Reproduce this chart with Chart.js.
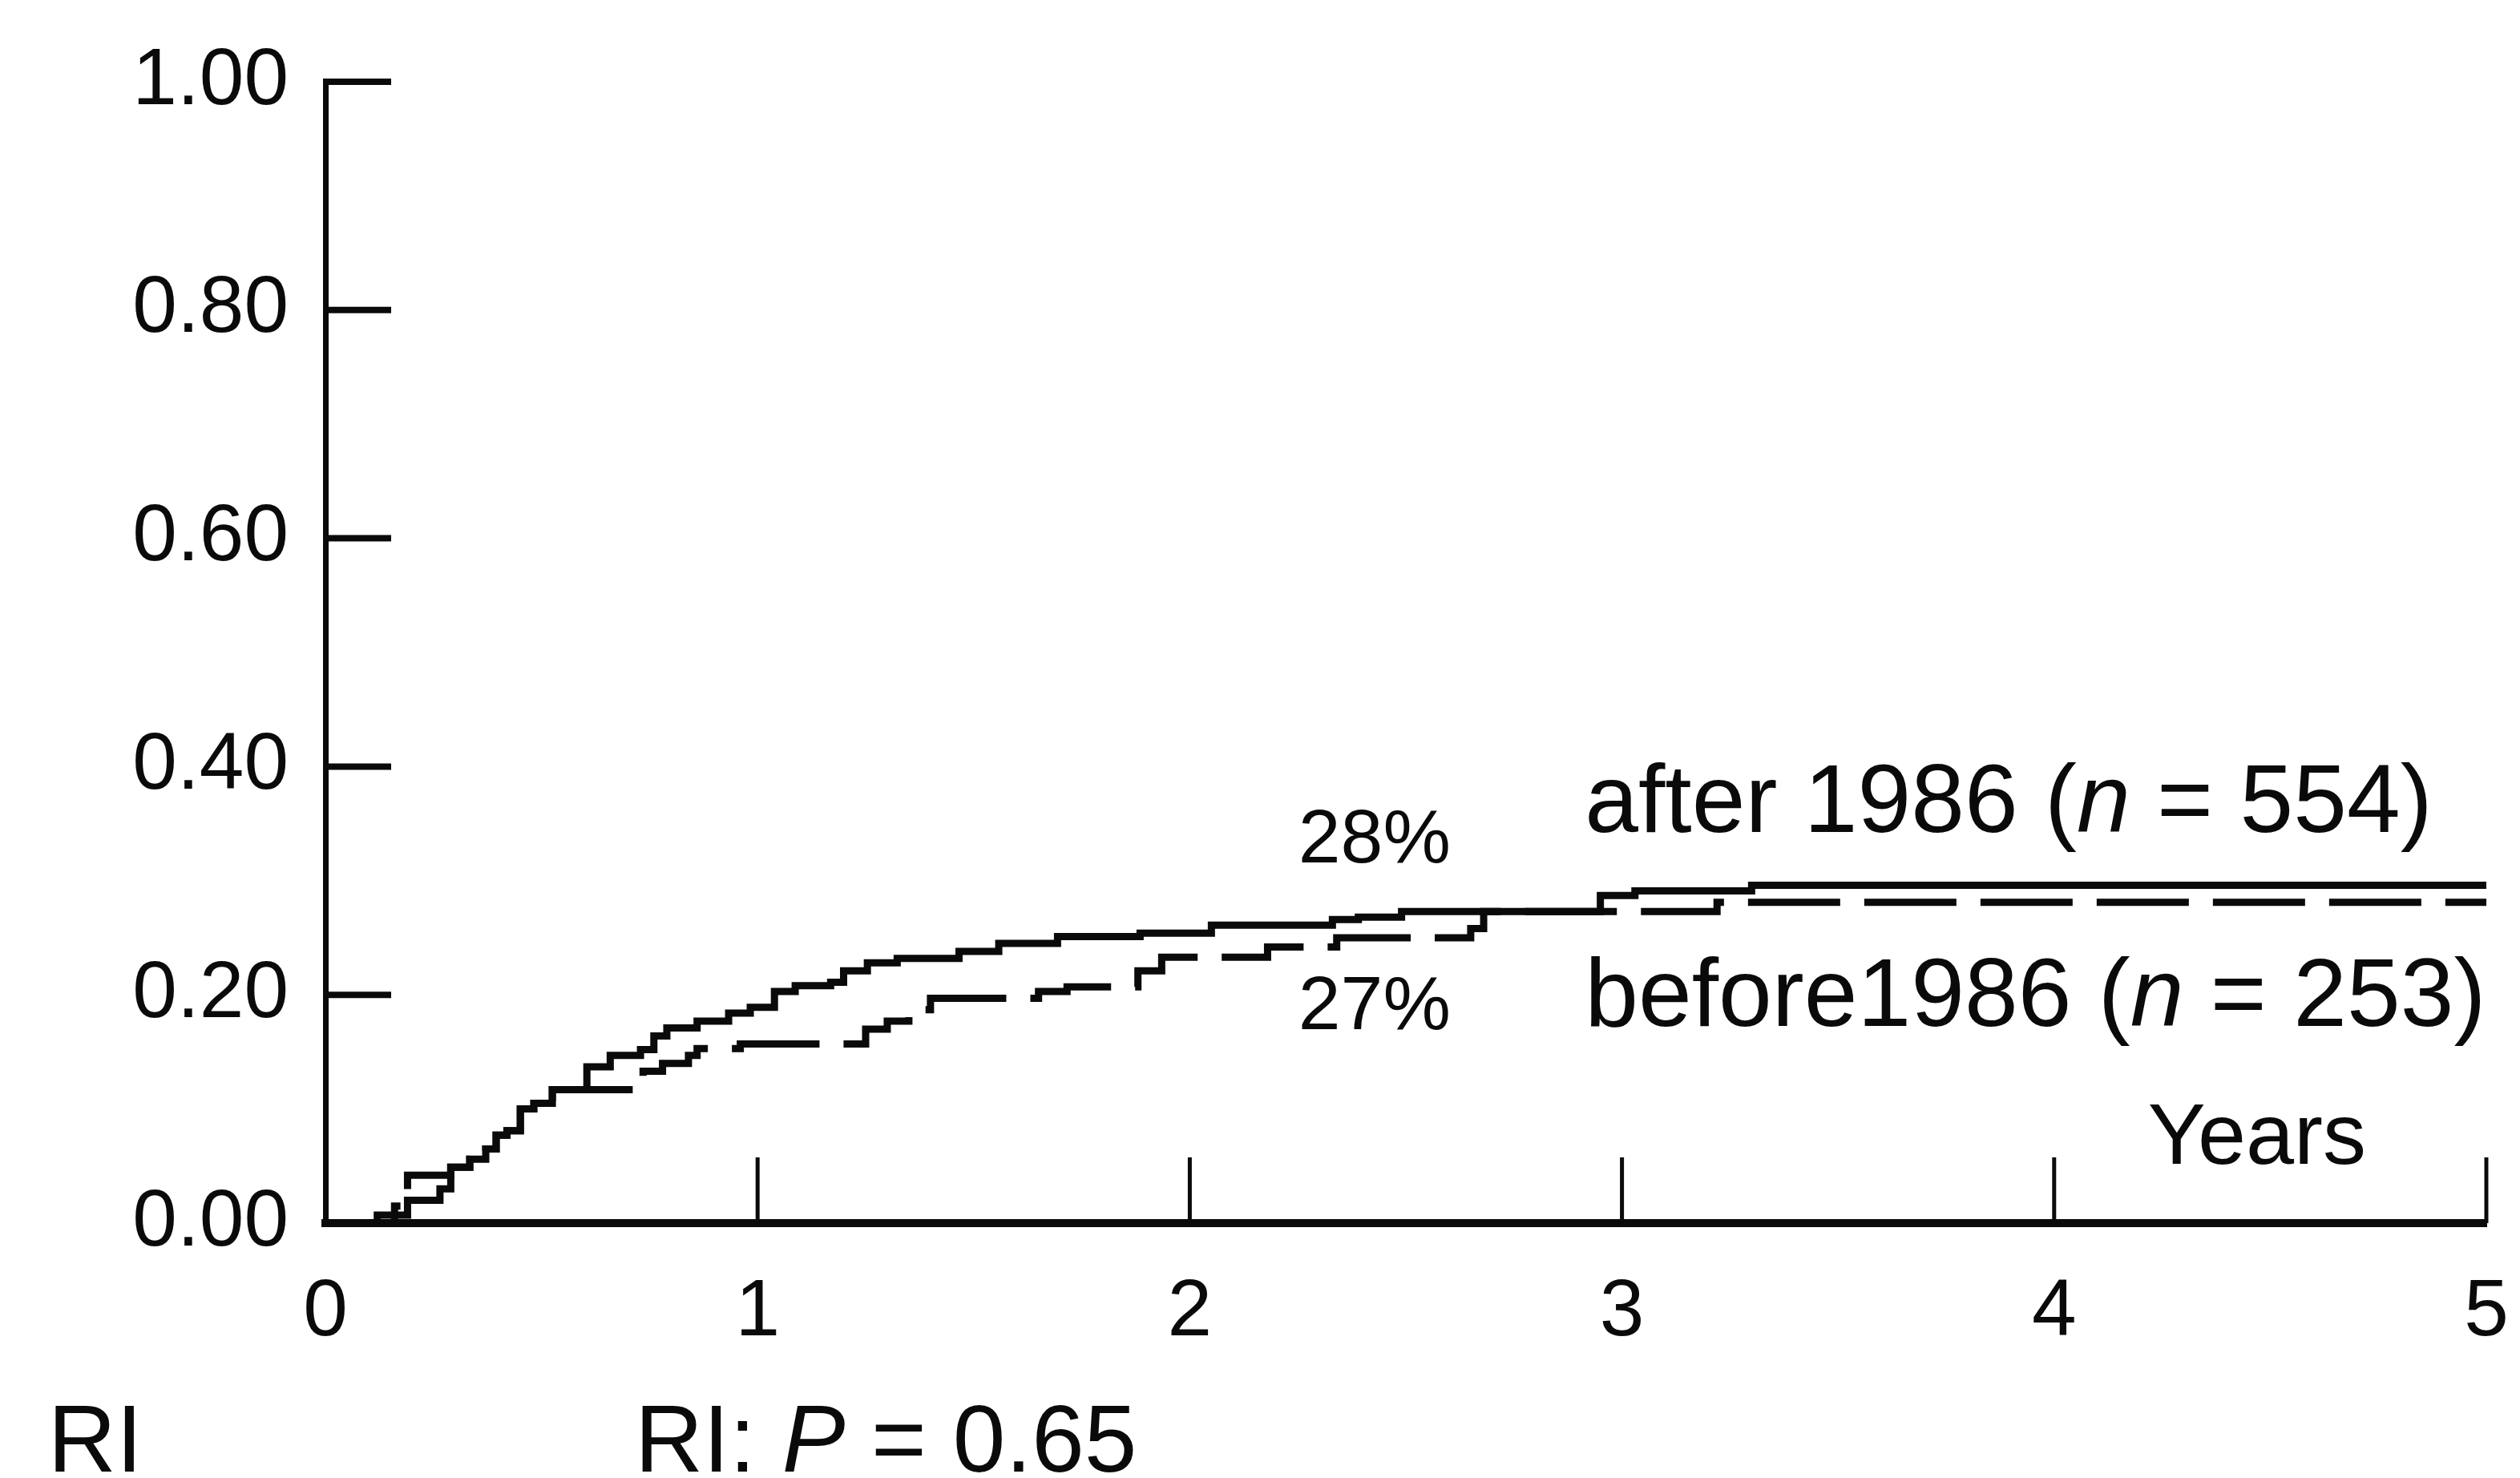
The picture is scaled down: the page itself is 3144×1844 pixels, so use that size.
<!DOCTYPE html>
<html>
<head>
<meta charset="utf-8">
<script src="https://cdn.jsdelivr.net/npm/chart.js@4.4.1/dist/chart.umd.min.js"></script>
<style>
  html, body { margin: 0; padding: 0; background: #fff; }
  #wrap { width: 3144px; height: 1844px; position: relative; }
</style>
</head>
<body>
<div id="wrap"><canvas id="chart"></canvas></div>
<script>
// cumulative incidence (years, proportion)
const afterYears = [0, 0.12, 0.19, 0.265, 0.29, 0.334, 0.371, 0.395, 0.42, 0.451, 0.482, 0.525, 0.605, 0.659, 0.729, 0.76, 0.79, 0.86, 0.933, 0.983, 1.039, 1.087, 1.169, 1.199, 1.254, 1.323, 1.466, 1.558, 1.694, 1.885, 2.05, 2.33, 2.39, 2.49, 2.95, 3.03, 3.3, 5]
const afterRisk = [0, 0.007, 0.02, 0.03, 0.049, 0.056, 0.065, 0.077, 0.081, 0.1, 0.105, 0.117, 0.137, 0.147, 0.152, 0.164, 0.171, 0.177, 0.184, 0.189, 0.203, 0.208, 0.211, 0.221, 0.228, 0.232, 0.238, 0.245, 0.251, 0.254, 0.261, 0.266, 0.268, 0.273, 0.287, 0.291, 0.296, 0.296]

const beforeYears = [0, 0.16, 0.19, 0.29, 0.334, 0.371, 0.395, 0.42, 0.451, 0.482, 0.525, 0.735, 0.78, 0.84, 0.86, 0.96, 1.25, 1.3, 1.35, 1.4, 1.65, 1.716, 1.88, 1.935, 2.18, 2.34, 2.65, 2.68, 3.22, 5]
const beforeRisk = [0, 0.015, 0.042, 0.049, 0.056, 0.065, 0.077, 0.081, 0.1, 0.105, 0.117, 0.133, 0.14, 0.147, 0.153, 0.157, 0.17, 0.177, 0.187, 0.197, 0.203, 0.207, 0.221, 0.233, 0.242, 0.25, 0.258, 0.273, 0.281, 0.281]

const yTicks = [0, 0.2, 0.4, 0.6, 0.8, 1.0]
const xTicks = [0, 1, 2, 3, 4, 5]

const FONT = '"Liberation Sans", Arial, Helvetica, sans-serif'
const INK = '#0a0a0a'

const toPoints = (xs, ys) => xs.map((x, i) => ({ x: x, y: ys[i] }))

// text placed in axis units: [x, y, size, runs]  run = [text, italic]
const notes = [
  [2.251, 0.316, 95, [['28%', false]]],
  [2.914, 0.343, 120, [['after 1986 (', false], ['n', true], [' = 554)', false]]],
  [2.251, 0.170, 95, [['27%', false]]],
  [2.914, 0.173, 120, [['before1986 (', false], ['n', true], [' = 253)', false]]],
  [4.217, 0.052, 108, [['Years', false]]],
  [-0.642, -0.218, 118, [['RI', false]]],
  [0.716, -0.218, 118, [['RI: ', false], ['P', true], [' = 0.65', false]]]
]

const innerTicks = {
  id: 'innerTicks',
  afterDatasetsDraw(chart) {
    const ctx = chart.ctx
    const xs = chart.scales.x, ys = chart.scales.y
    const area = chart.chartArea
    ctx.save()
    ctx.strokeStyle = INK
    ctx.lineCap = 'butt'
    ctx.lineWidth = 8
    yTicks.filter(v => v > 0).forEach(v => {
      const py = ys.getPixelForValue(v)
      ctx.beginPath()
      ctx.moveTo(area.left - 3, py)
      ctx.lineTo(area.left + 82, py)
      ctx.stroke()
    })
    ctx.lineWidth = 5
    xTicks.filter(v => v > 0).forEach(v => {
      const px = xs.getPixelForValue(v)
      ctx.beginPath()
      ctx.moveTo(px, area.bottom)
      ctx.lineTo(px, area.bottom - 82)
      ctx.stroke()
    })
    ctx.restore()
  }
}

const textNotes = {
  id: 'textNotes',
  afterDraw(chart) {
    const ctx = chart.ctx
    const xs = chart.scales.x, ys = chart.scales.y
    ctx.save()
    ctx.fillStyle = INK
    ctx.textBaseline = 'alphabetic'
    ctx.textAlign = 'left'
    notes.forEach(([x, y, size, runs]) => {
      let px = xs.getPixelForValue(x)
      const py = ys.getPixelForValue(y)
      runs.forEach(([t, it]) => {
        ctx.font = (it ? 'italic ' : '') + size + 'px ' + FONT
        ctx.fillText(t, px, py)
        px += ctx.measureText(t).width
      })
    })
    ctx.restore()
  }
}

new Chart(document.getElementById('chart').getContext('2d'), {
  type: 'line',
  data: {
    datasets: [
      {
        label: 'after 1986',
        data: toPoints(afterYears, afterRisk),
        borderColor: INK,
        borderWidth: 9,
        stepped: 'before',
        pointRadius: 0,
        fill: false,
        clip: 14
      },
      {
        label: 'before 1986',
        data: toPoints(beforeYears, beforeRisk),
        borderColor: INK,
        borderWidth: 9,
        borderDash: [115, 30],
        stepped: 'before',
        pointRadius: 0,
        fill: false,
        clip: 14
      }
    ]
  },
  options: {
    responsive: true,
    maintainAspectRatio: false,
    devicePixelRatio: 1,
    animation: false,
    events: [],
    layout: { padding: { top: 102, right: 42, left: 0, bottom: 0 } },
    plugins: { legend: { display: false }, tooltip: { enabled: false } },
    scales: {
      x: {
        type: 'linear',
        min: 0,
        max: 5,
        afterBuildTicks: s => { s.ticks = xTicks.map(v => ({ value: v })) },
        afterFit: s => { s.height = 318; s.paddingRight = 0; s.paddingLeft = 0 },
        grid: { display: false, drawTicks: false },
        border: { display: true, color: INK, width: 10 },
        ticks: {
          color: INK,
          padding: 52,
          maxRotation: 0,
          font: { family: FONT, size: 100 },
          callback: v => String(v)
        }
      },
      y: {
        min: 0,
        max: 1,
        afterBuildTicks: s => { s.ticks = yTicks.map(v => ({ value: v })) },
        afterFit: s => { s.width = 406; s.paddingTop = 0; s.paddingBottom = 0 },
        grid: { display: false, drawTicks: false },
        border: { display: true, color: INK, width: 7 },
        ticks: {
          color: INK,
          padding: 46,
          font: { family: FONT, size: 100 },
          callback: v => Number(v).toFixed(2)
        }
      }
    }
  },
  plugins: [innerTicks, textNotes]
})
</script>
</body>
</html>
